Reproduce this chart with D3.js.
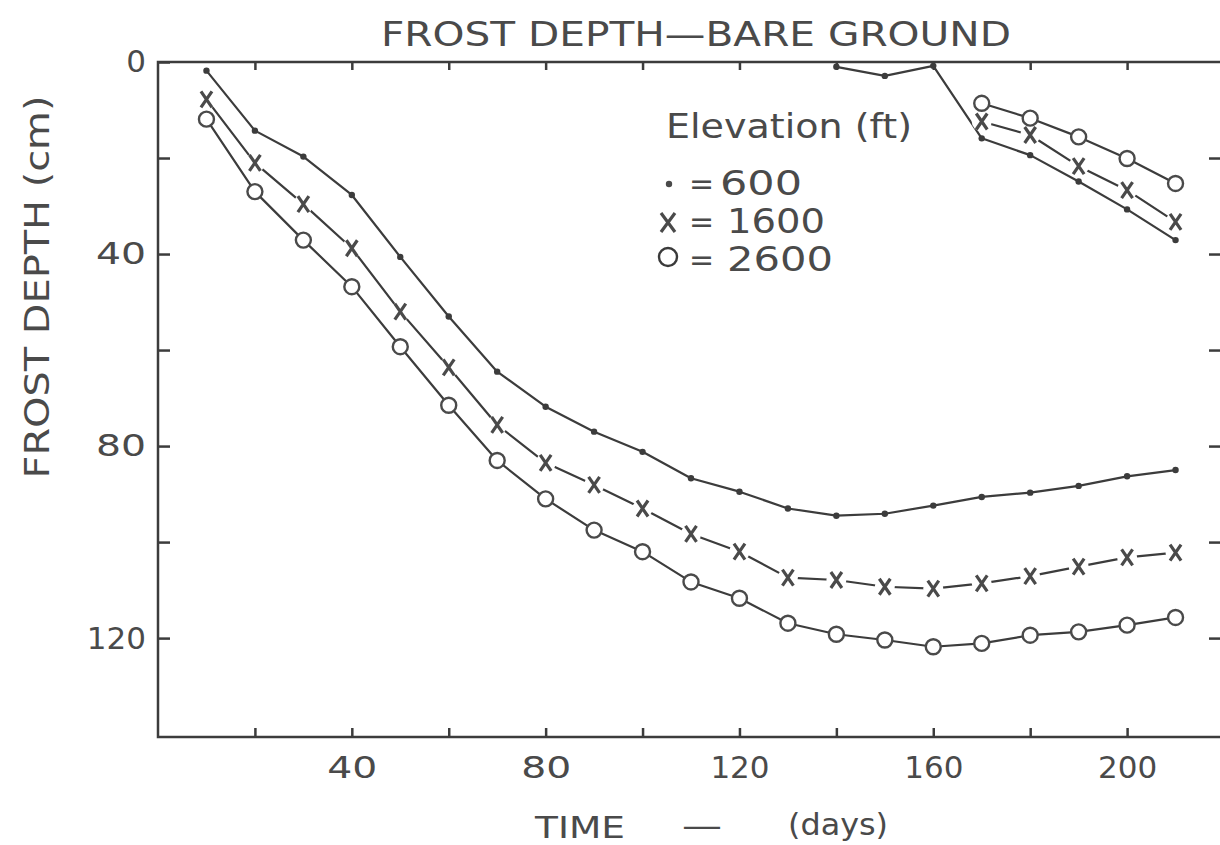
<!DOCTYPE html>
<html>
<head>
<meta charset="utf-8">
<script src="https://cdn.jsdelivr.net/npm/d3@7"></script>
<style>
  html, body { margin: 0; padding: 0; background: #ffffff; }
  svg { display: block; }
  text { font-family: "DejaVu Sans", sans-serif; fill: #4a4a4a; }
</style>
</head>
<body>
<svg id="chart" width="1220" height="845"></svg>
<script>
// ---------- data ----------
const days = [10,20,30,40,50,60,70,80,90,100,110,120,130,140,150,160,170,180,190,200,210];
const depth600  = [1.8,14.3,19.7,27.7,40.6,53.0,64.5,71.8,77.0,81.2,86.7,89.5,93.0,94.5,94.1,92.4,90.6,89.7,88.3,86.3,85.0];
const depth1600 = [7.8,21.0,29.6,38.8,52.0,63.6,75.6,83.5,88.1,93.0,98.3,102.0,107.4,107.9,109.3,109.7,108.6,107.1,105.1,103.2,102.2];
const depth2600 = [11.9,27.0,37.1,46.8,59.3,71.5,83.0,91.0,97.5,102.0,108.3,111.7,116.9,119.2,120.4,121.8,121.1,119.4,118.7,117.3,115.7];

// upper (surface) frost layer, late season
const upperDays600 = [140,150,160,170,180,190,200,210];
const upper600     = [1.0,2.9,0.8,15.9,19.4,24.9,30.7,37.1];
const upperDays    = [170,180,190,200,210];
const upper1600    = [12.4,15.2,21.7,26.7,33.3];
const upper2600    = [8.6,11.7,15.6,20.1,25.3];

const xTicks = [20,40,60,80,100,120,140,160,180,200];
const xTickLabels = [40,80,120,160,200];
const yTicks = [0,20,40,60,80,100,120];
const yTickLabels = [0,40,80,120];
const legendLabels = ["600","1600","2600"];

// ---------- setup ----------
const svg = d3.select("#chart");
const ink = "#3c3c3c";
const x = d3.scaleLinear().domain([0,220]).range([158,1224]);
const y = d3.scaleLinear().domain([0,140.6]).range([62,737]);

// wide lettering helper: stretch glyphs to a target width
const wide = (s, perChar) => s.length * perChar;

// title
svg.append("text").attr("x",381).attr("y",46)
  .style("font-size","34px").attr("textLength",630).attr("lengthAdjust","spacingAndGlyphs")
  .text("FROST DEPTH\u2014BARE GROUND");

// frame
svg.append("rect").attr("x",x(0)).attr("y",y(0))
  .attr("width",x(220)-x(0)).attr("height",y(140.6)-y(0))
  .attr("fill","none").attr("stroke",ink).attr("stroke-width",2.5);

// axes
const gB = svg.append("g").attr("transform",`translate(0,${y(140.6)})`)
  .call(d3.axisBottom(x).tickValues(xTicks).tickSizeInner(-9).tickSizeOuter(0).tickPadding(19)
    .tickFormat(d => xTickLabels.includes(d) ? d : ""));
const gT = svg.append("g").attr("transform",`translate(0,${y(0)})`)
  .call(d3.axisTop(x).tickValues(xTicks).tickSizeInner(-8).tickSizeOuter(0).tickFormat(""));
const gL = svg.append("g").attr("transform",`translate(${x(0)},0)`)
  .call(d3.axisLeft(y).tickValues(yTicks).tickSizeInner(-12).tickSizeOuter(0).tickPadding(12)
    .tickFormat(d => yTickLabels.includes(d) ? d : ""));
const gR = svg.append("g").attr("transform",`translate(${x(220)},0)`)
  .call(d3.axisRight(y).tickValues(yTicks.slice(1)).tickSizeInner(-15).tickSizeOuter(0).tickFormat(""));
[gB,gT,gL,gR].forEach(g => {
  g.select(".domain").remove();
  g.selectAll(".tick line").attr("stroke",ink).attr("stroke-width",2.5);
  g.selectAll(".tick text").style("font-size","31px")
    .attr("fill","#4a4a4a").style("font-family","DejaVu Sans, sans-serif")
    .each(function(){
      const t = d3.select(this).text();
      if (t.length === 2) d3.select(this).attr("textLength",50).attr("lengthAdjust","spacingAndGlyphs");
    });
});
gB.selectAll(".tick text").attr("dy","0.71em");

// axis titles
svg.append("text").attr("transform","translate(49,287) rotate(-90)").attr("text-anchor","middle")
  .style("font-size","33px").attr("textLength",383).attr("lengthAdjust","spacingAndGlyphs")
  .text("FROST DEPTH (cm)");
svg.append("text").attr("x",535).attr("y",838).style("font-size","30px")
  .attr("textLength",90).attr("lengthAdjust","spacingAndGlyphs").text("TIME");
svg.append("text").attr("x",682).attr("y",836).style("font-size","30px")
  .attr("textLength",40).attr("lengthAdjust","spacingAndGlyphs").text("\u2014");
svg.append("text").attr("x",788).attr("y",835).style("font-size","30px")
  .attr("textLength",100).attr("lengthAdjust","spacingAndGlyphs").text("(days)");

// ---------- series ----------
const lineGen = d3.line().x(d => x(d[0])).y(d => y(d[1]));
const zip = (a,b) => a.map((v,i) => [v,b[i]]);

const s600 = zip(days, depth600), s1600 = zip(days, depth1600), s2600 = zip(days, depth2600);
const u600 = zip(upperDays600, upper600), u1600 = zip(upperDays, upper1600), u2600 = zip(upperDays, upper2600);

const plot = svg.append("g");
function drawLine(data){
  plot.append("path").datum(data).attr("d",lineGen).attr("fill","none")
    .attr("stroke",ink).attr("stroke-width",2.2).attr("stroke-linejoin","round");
}
[s600,u600,s1600,u1600,s2600,u2600].forEach(drawLine);

// markers
function dots(data){
  plot.append("g").selectAll("circle").data(data).join("circle")
    .attr("cx",d=>x(d[0])).attr("cy",d=>y(d[1])).attr("r",3.2).attr("fill",ink);
}
function crosses(data){
  const g = plot.append("g");
  g.selectAll("circle").data(data).join("circle")
    .attr("cx",d=>x(d[0])).attr("cy",d=>y(d[1])).attr("r",10).attr("fill","#ffffff");
  g.selectAll("path").data(data).join("path")
    .attr("d",d=>{const cx=x(d[0]), cy=y(d[1]);
      return `M${cx-5.5},${cy-8}L${cx+5.5},${cy+8}M${cx+5.5},${cy-8}L${cx-5.5},${cy+8}`;})
    .attr("stroke","#4a4a4a").attr("stroke-width",3.2).attr("fill","none");
}
function rings(data){
  plot.append("g").selectAll("circle").data(data).join("circle")
    .attr("cx",d=>x(d[0])).attr("cy",d=>y(d[1])).attr("r",7.5)
    .attr("fill","#ffffff").attr("stroke","#4a4a4a").attr("stroke-width",2.4);
}
dots(s600); dots(u600);
crosses(s1600); crosses(u1600);
rings(s2600); rings(u2600);

// ---------- legend ----------
const lg = svg.append("g");
lg.append("text").attr("x",666).attr("y",138).style("font-size","33px")
  .attr("textLength",246).attr("lengthAdjust","spacingAndGlyphs").text("Elevation (ft)");
const rowsY = [195,233,271];
lg.append("circle").attr("cx",669).attr("cy",rowsY[0]-11).attr("r",3.2).attr("fill","#4a4a4a");
lg.append("path").attr("d",`M${661},${rowsY[1]-20}L${675},${rowsY[1]-1}M${675},${rowsY[1]-20}L${661},${rowsY[1]-1}`)
  .attr("stroke","#4a4a4a").attr("stroke-width",3.2);
lg.append("circle").attr("cx",668).attr("cy",rowsY[2]-14).attr("r",9)
  .attr("fill","none").attr("stroke","#3a3a3a").attr("stroke-width",2.4);
const numWidths = [82, 98, 106];
legendLabels.forEach((t,i) => {
  lg.append("text").attr("x",689).attr("y",rowsY[i]-1).style("font-size","30px").text("=");
  lg.append("text").attr("x", i===0 ? 720 : 727).attr("y",rowsY[i]).style("font-size","33px")
    .attr("textLength", numWidths[i]).attr("lengthAdjust","spacingAndGlyphs").text(t);
});
</script>
</body>
</html>
